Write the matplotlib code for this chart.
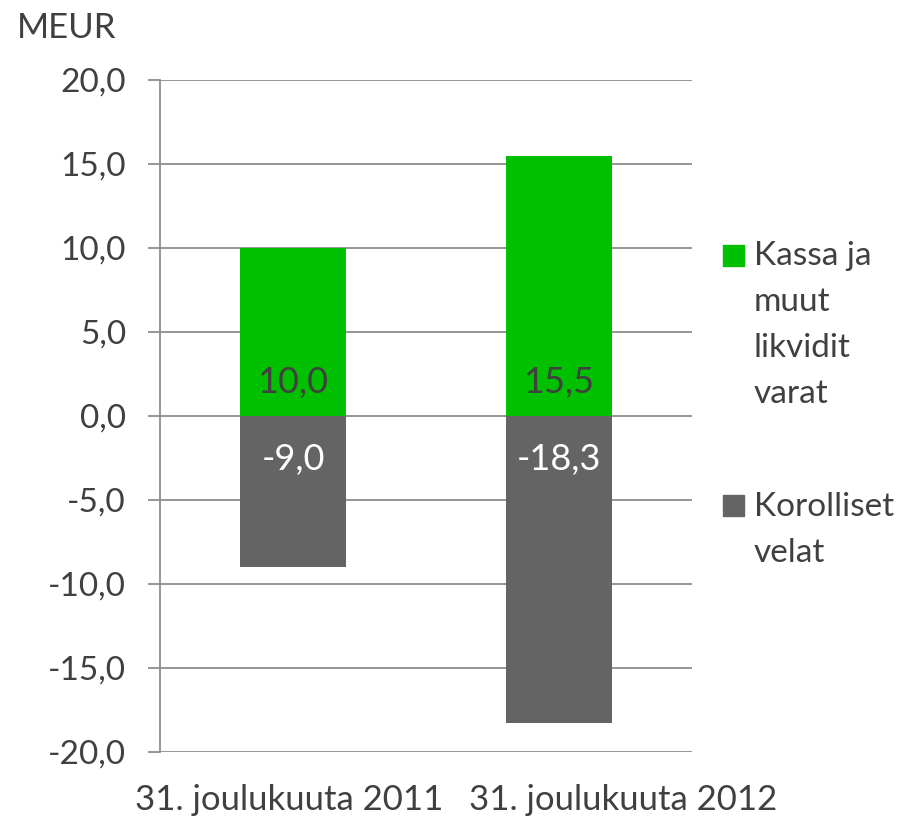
import matplotlib
matplotlib.use("Agg")
import matplotlib.pyplot as plt
import matplotlib.transforms as mtransforms
import numpy as np

# ---- data ----
categories = ["31. joulukuuta 2011", "31. joulukuuta 2012"]
series_names = ["Kassa ja\nmuut\nlikvidit\nvarat", "Korolliset\nvelat"]
kassa = [10.0, 15.5]
velat = [-9.0, -18.3]
yticks = [-20, -15, -10, -5, 0, 5, 10, 15, 20]
unit_label = "MEUR"

green = "#00C000"
grey = "#646464"
txt = "#404040"
gridc = "#8C8C8C"

plt.rcParams['font.family'] = ['Lato', 'DejaVu Sans']

fig = plt.figure(figsize=(9.02, 8.24), dpi=100)
ax = fig.add_axes([160/902, 1-752/824, (692-160)/902, (752-80)/824])

x = np.arange(len(categories))
w = 0.4
ax.bar(x, kassa, width=w, color=green, zorder=3)
ax.bar(x, velat, width=w, color=grey, zorder=3)

def fmt(v):
    return f"{v:.1f}".replace(".", ",")

for xi, v in zip(x, kassa):
    ax.annotate(fmt(v), (xi, 0), xytext=(0, 16.6), textcoords="offset points",
                ha="center", va="baseline", fontsize=26, color=txt, zorder=4)
for xi, v in zip(x, velat):
    ax.annotate(fmt(v), (xi, 0), xytext=(0, -38.9), textcoords="offset points",
                ha="center", va="baseline", fontsize=26, color="white", zorder=4)

ax.set_xlim(-0.5, 1.5)
ax.set_ylim(-20, 20)
ax.set_yticks(yticks)
ax.set_yticklabels([fmt(t) for t in yticks], fontsize=24, color=txt)
ax.set_xticks(x)
ax.set_xticklabels(categories, fontsize=25, color=txt)
ax.tick_params(axis='x', length=0, pad=23)
ax.tick_params(axis='y', length=8.5, width=1.3, color=gridc, pad=16)

# shift category labels sideways so they do not collide (as in the original)
shifts_px = [-3.5, 64]
for lab, s in zip(ax.get_xticklabels(), shifts_px):
    lab.set_transform(lab.get_transform() +
                      mtransforms.ScaledTranslation(s/100, 0, fig.dpi_scale_trans))

ax.yaxis.grid(True, color=gridc, linewidth=1.3, zorder=0)
for s in ["top", "right", "bottom"]:
    ax.spines[s].set_visible(False)
ax.spines["left"].set_color(gridc)
ax.spines["left"].set_linewidth(1.3)
ax.spines["left"].set_zorder(5)

fig.text(17/902, 1-38/824, unit_label, fontsize=25, color=txt, ha="left", va="baseline")

# legend (manual)
def px(xp, yp):
    return xp/902, 1-yp/824

leg_specs = [(series_names[0], green, 245, 265), (series_names[1], grey, 495, 516)]
for name, col, ytop, base in leg_specs:
    fig.patches.append(plt.Rectangle(px(723, ytop+21), 21/902, 21/824,
                                     transform=fig.transFigure, color=col))
    for i, line in enumerate(name.split("\n")):
        fig.text(*px(754, base + i*46), line, fontsize=24, color=txt,
                 ha="left", va="baseline")

fig.savefig("out.png", dpi=100)
